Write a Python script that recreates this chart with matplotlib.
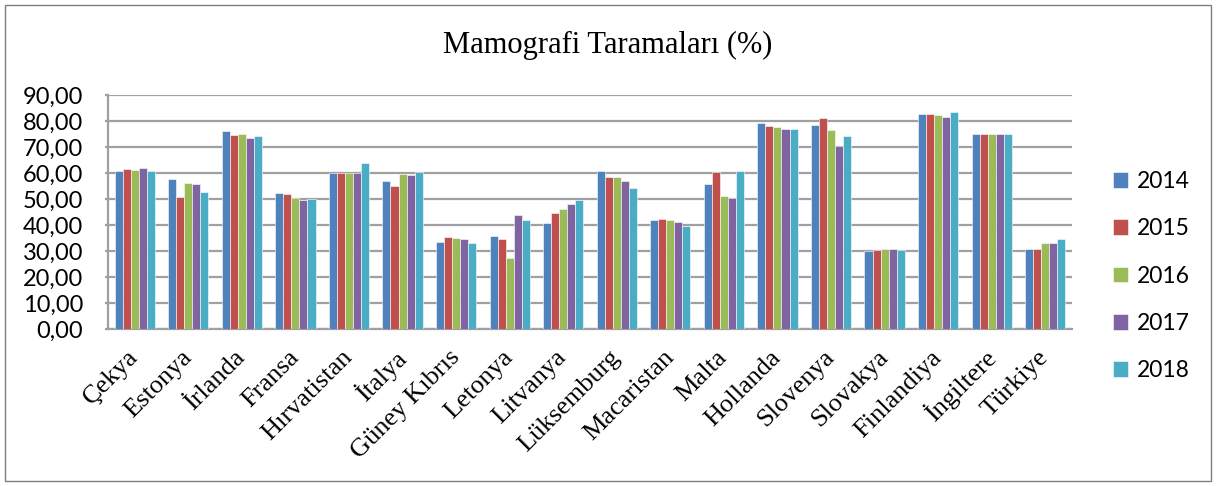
import matplotlib.pyplot as plt
import numpy as np
from matplotlib.patches import Rectangle
from matplotlib.ticker import FuncFormatter

# Mamografi tarama oranlari (%), 2014-2018
countries = ['Çekya', 'Estonya', 'İrlanda', 'Fransa', 'Hırvatistan', 'İtalya',
             'Güney Kıbrıs', 'Letonya', 'Litvanya', 'Lüksemburg', 'Macaristan',
             'Malta', 'Hollanda', 'Slovenya', 'Slovakya', 'Finlandiya',
             'İngiltere', 'Türkiye']
years = ['2014', '2015', '2016', '2017', '2018']

v2014 = [60.6, 57.7, 76.3, 52.3, 59.8, 56.8, 33.3, 35.8, 40.6, 60.8, 41.9, 55.6, 79.1, 78.3, 30.0, 82.7, 75.1, 30.8]
v2015 = [61.4, 50.6, 74.6, 51.8, 59.8, 54.9, 35.3, 34.7, 44.6, 58.3, 42.2, 60.3, 77.9, 81.2, 30.3, 82.6, 74.9, 30.8]
v2016 = [61.2, 56.0, 74.9, 50.4, 59.8, 59.7, 35.0, 27.3, 46.0, 58.3, 41.8, 51.2, 77.6, 76.5, 30.6, 82.4, 75.1, 33.1]
v2017 = [61.9, 55.6, 73.6, 49.6, 59.8, 59.1, 34.6, 43.8, 48.1, 56.9, 41.0, 50.3, 76.9, 70.4, 30.6, 81.7, 74.9, 33.1]
v2018 = [60.8, 52.6, 74.2, 50.0, 63.8, 60.4, 33.1, 41.9, 49.6, 54.2, 39.7, 60.6, 76.8, 74.2, 30.3, 83.5, 75.0, 34.6]

colors = ['#4F81BD', '#C0504D', '#9BBB59', '#8064A2', '#4BACC6']

fig = plt.figure(figsize=(12.16, 4.86), dpi=100)
ax = fig.add_axes([0.0888, 0.323, 0.7928, 0.4817])

x = np.arange(len(countries))
width = 0.15
for i, (vals, c, yr) in enumerate(zip([v2014, v2015, v2016, v2017, v2018], colors, years)):
    ax.bar(x + (i - 2) * width, vals, width, color=c, label=yr,
           edgecolor='white', linewidth=0.4, zorder=3)

ax.set_xlim(-0.5, len(countries) - 0.5)
ax.set_ylim(0, 90)
ax.set_yticks(np.arange(0, 91, 10))
ax.yaxis.set_major_formatter(FuncFormatter(lambda v, p: f'{v:.2f}'.replace('.', ',')))
ax.grid(axis='y', color='#a0a0a0', linewidth=1.6, zorder=0)
ax.set_axisbelow(True)
for s in ['top', 'right']:
    ax.spines[s].set_visible(False)
for s in ['left', 'bottom']:
    ax.spines[s].set_color('#a0a0a0')
    ax.spines[s].set_linewidth(1.6)
ax.tick_params(axis='y', length=2, width=1.6, color='#a0a0a0', labelsize=17, pad=16)
ax.tick_params(axis='x', length=0, pad=18)
for lab in ax.get_yticklabels():
    lab.set_family('Lato')

ax.set_xticks(x)
ax.set_xticklabels(countries, rotation=45, ha='right', va='center', rotation_mode='anchor',
                   fontsize=19, family='Liberation Serif')

fig.text(0.5, 0.907, 'Mamografi Taramaları (%)', ha='center', va='center',
         fontsize=22, family='Liberation Serif')

fig.legend(loc='center left', bbox_to_anchor=(0.898, 0.432), frameon=False,
           prop={'family': 'Lato', 'size': 16.5}, handlelength=0.67,
           handleheight=0.67, labelspacing=1.15, handletextpad=0.4)

fig.patches.append(Rectangle((0.004, 0.01), 0.992, 0.98, transform=fig.transFigure,
                             fill=False, edgecolor='#7f7f7f', linewidth=1))

fig.savefig('out.png', dpi=100)
